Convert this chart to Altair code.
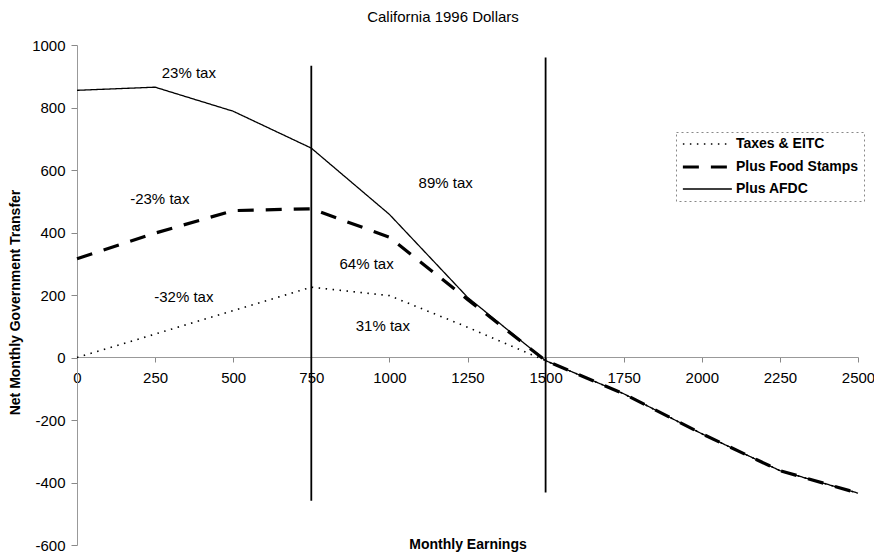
import altair as alt
import pandas as pd

# ---- data ----
earnings = [0, 250, 500, 750, 1000, 1250, 1500, 1750, 2000, 2250, 2500]
taxes_eitc = [0, 75, 150, 225, 198, 97, -10, -116, -244, -362, -434]
food_stamps = [316, 398, 470, 476, 385, 186, -10, -116, -244, -362, -434]
afdc = [855, 865, 788, 670, 458, 193, -10, -116, -244, -362, -434]
series_names = ["Taxes & EITC", "Plus Food Stamps", "Plus AFDC"]

rule_x = [750, 1500]
rule_top = [934, 960]
rule_bottom = [-458, -432]

note_text = ["23% tax", "-23% tax", "-32% tax", "89% tax", "64% tax", "31% tax"]
note_x = [358, 265, 342, 1180, 927, 979]
note_y = [912, 506, 195, 557, 298, 102]

title_text = "California 1996 Dollars"

x_ticks = list(range(0, 2501, 250))
y_ticks = list(range(-600, 1001, 200))

FONT = "Liberation Sans"

rows = []
for name, vals in zip(series_names, [taxes_eitc, food_stamps, afdc]):
    for e, v in zip(earnings, vals):
        rows.append({"series": name, "earnings": e, "transfer": v})
lines_df = pd.DataFrame(rows)

rules_df = pd.DataFrame({"x": rule_x, "top": rule_top, "bottom": rule_bottom})
notes_df = pd.DataFrame({"label": note_text, "x": note_x, "y": note_y})
title_df = pd.DataFrame({"label": [title_text]})

xscale = alt.Scale(domain=[0, 2500], nice=False, zero=False)
yscale = alt.Scale(domain=[-600, 1000], nice=False, zero=False)

legend = alt.Legend(title=None, orient="none", legendX=599, legendY=87,
                    symbolType="M-1,0H7", symbolSize=150,
                    symbolStrokeColor="black",
                    labelFont=FONT, labelFontSize=14,
                    labelFontWeight="bold", labelColor="black",
                    labelOffset=39, rowPadding=8, padding=5,
                    fillColor="white", strokeColor="#888")

lines = alt.Chart(lines_df).mark_line(color="black").encode(
    x=alt.X("earnings:Q", scale=xscale,
            axis=alt.Axis(title="Monthly Earnings", values=x_ticks, grid=False,
                          labelExpr="'' + datum.value", labelFlush=False,
                          offset=-188, titleY=187, titleBaseline="middle",
                          titleFont=FONT, titleFontSize=14, titleFontWeight="bold",
                          labelFont=FONT, labelFontSize=15, labelColor="black",
                          labelPadding=8, tickSize=5, tickColor="#888",
                          domainColor="#999", domainWidth=1, titleColor="black")),
    y=alt.Y("transfer:Q", scale=yscale,
            axis=alt.Axis(title="Net Monthly Government Transfer", values=y_ticks, grid=False,
                          labelExpr="'' + datum.value",
                          titleX=-62, titleY=257, titleAngle=270, titleBaseline="middle",
                          titleAlign="center",
                          titleFont=FONT, titleFontSize=14, titleFontWeight="bold",
                          labelFont=FONT, labelFontSize=15, labelColor="black",
                          labelPadding=6, tickSize=6, tickColor="#888",
                          domainColor="#999", domainWidth=1, titleColor="black")),
    strokeDash=alt.StrokeDash("series:N",
                              scale=alt.Scale(domain=series_names,
                                              range=[[1.5, 5.5], [16, 12], [1, 0]]),
                              legend=legend),
    strokeWidth=alt.StrokeWidth("series:N",
                                scale=alt.Scale(type="ordinal", domain=series_names,
                                                range=[1.6, 3.2, 1.3]),
                                legend=legend),
    detail="series:N",
)

rules = alt.Chart(rules_df).mark_rule(color="black", strokeWidth=1.8).encode(
    x=alt.X("x:Q", scale=xscale),
    y=alt.Y("top:Q", scale=yscale),
    y2="bottom:Q",
)

notes = alt.Chart(notes_df).mark_text(font=FONT, fontSize=15, color="black").encode(
    x=alt.X("x:Q", scale=xscale),
    y=alt.Y("y:Q", scale=yscale),
    text="label:N",
)

title = alt.Chart(title_df).mark_text(font=FONT, fontSize=15, color="black",
                                      baseline="middle", align="center").encode(
    x=alt.value(366), y=alt.value(-28), text="label:N",
)

chart = alt.layer(lines, rules, notes, title).properties(
    width=781, height=500,
    autosize=alt.AutoSizeParams(type="none"),
    padding={"left": 69, "top": 37, "right": 16, "bottom": 9},
).configure_view(stroke=None).configure_legend(strokeDash=[2, 3], strokeWidth=1)

chart.save("out.html", embed_options={"renderer": "svg", "actions": False})
